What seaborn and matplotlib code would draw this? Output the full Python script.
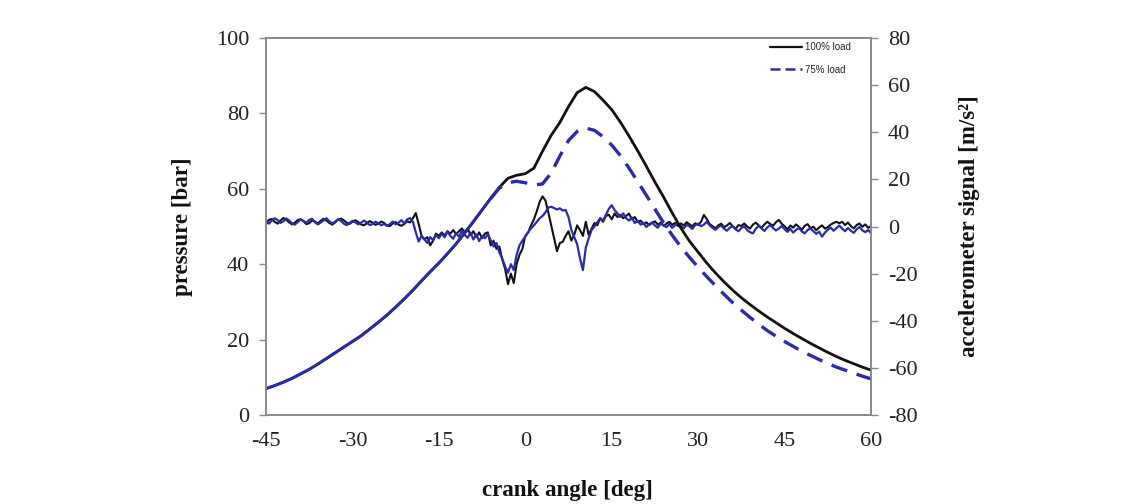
import numpy as np
import pandas as pd
import matplotlib
matplotlib.use("Agg")
import matplotlib.pyplot as plt
from matplotlib.lines import Line2D
import seaborn as sns

# ---------------- data ----------------
# crank angle grid for pressure traces (deg)
angle_p = [-45 + 1.5 * i for i in range(71)]

pressure_100 = [
    7.0, 7.8, 8.7, 9.7, 10.9, 12.1, 13.5, 15.0, 16.5, 18.0,
    19.5, 21.0, 22.8, 24.6, 26.5, 28.6, 30.8, 33.1, 35.6, 38.0,
    40.3, 42.8, 45.4, 48.3, 51.3, 54.4, 57.5, 60.4, 62.8, 63.6,
    64.0, 65.5, 70.0, 74.2, 77.6, 81.8, 85.5, 86.9, 85.8, 83.5,
    81.0, 77.7, 74.0, 70.1, 66.0, 61.8, 57.8, 53.6, 49.6, 46.1,
    43.2, 40.3, 37.7, 35.3, 33.1, 31.1, 29.3, 27.6, 26.0, 24.5,
    23.0, 21.6, 20.3, 19.0, 17.8, 16.6, 15.5, 14.5, 13.6, 12.7,
    11.9,
]

pressure_75 = [
    7.0, 7.8, 8.7, 9.7, 10.9, 12.1, 13.5, 15.0, 16.5, 18.0,
    19.5, 21.0, 22.8, 24.6, 26.5, 28.6, 30.8, 33.1, 35.6, 38.0,
    40.3, 42.8, 45.4, 48.3, 51.3, 54.4, 57.4, 60.2, 61.6, 62.0,
    61.6, 61.0, 61.3, 64.2, 68.7, 72.8, 75.2, 76.1, 75.5, 73.8,
    71.6, 68.8, 65.5, 61.9, 58.3, 54.6, 51.0, 47.7, 44.6, 41.8,
    39.2, 36.7, 34.3, 32.0, 29.8, 27.8, 25.9, 24.1, 22.4, 20.9,
    19.5, 18.2, 16.9, 15.8, 14.7, 13.7, 12.7, 11.9, 11.1, 10.3,
    9.6,
]

# crank angle grid for accelerometer traces (deg)
angle_a = [-45 + 0.5 * i for i in range(211)]

accel_100 = [
    1.5, 2.8, 3.2, 2.0, 1.2, 2.5, 3.6, 2.9, 1.8, 0.9,
    1.6, 2.7, 3.1, 2.2, 1.0, 1.4, 2.6, 2.1, 1.3, 2.4,
    3.3, 2.5, 1.5, 0.8, 1.7, 2.9, 3.4, 2.6, 1.6, 1.1,
    2.0, 2.7, 1.9, 0.9, 0.5, 1.4, 2.3, 1.6, 0.7, 1.2,
    2.1, 1.5, 0.4, 0.2, 1.3, 1.9, 0.8, 0.3, 1.1, 2.2,
    1.7, 3.5, 5.7, 1.0, -4.0, -5.5, -4.5, -8.0, -6.0, -3.0,
    -4.0, -2.5, -3.8, -2.0, -3.0, -1.5, -3.2, -2.0, -0.8, -2.5,
    -1.0, -3.5, -2.0, -4.5, -2.5, -5.0, -3.0, -2.5, -8.0, -6.0,
    -9.5, -8.5, -14.0, -18.0, -24.5, -20.0, -24.0, -16.0, -12.0, -9.5,
    -4.0, -2.5, 0.5, 3.0, 6.5, 10.5, 12.8, 11.0, 6.0, 0.5,
    -5.0, -10.5, -7.0, -6.5, -4.0, -2.0, -6.0, -3.5, 0.5, -1.5,
    -4.0, 2.0, -3.5, -1.0, 1.5, 0.5, 3.5, 2.0, 4.5, 5.0,
    3.0, 5.5, 4.0, 5.0, 3.5, 4.5, 5.5, 3.0, 4.0, 2.0,
    2.5, 1.0, 1.8, 0.6, 1.5, 2.2, 0.8, 1.6, 0.3, 1.2,
    2.0, 0.7, 1.5, 0.2, 1.3, 0.5, 1.8, 0.9, 0.1, 1.4,
    0.6, 2.0, 4.9, 3.2, 1.0, 0.2, -0.8, 0.5, 1.2, -0.3,
    0.4, 1.5, 0.1, -1.0, 0.6, 0.2, 1.3, 0.0, -0.9, 0.8,
    1.6, 0.5, -0.6, 0.9, 2.0, 1.1, 0.3, 1.8, 2.8, 1.2,
    0.1, -1.2, 0.4, -0.5, 0.9, -0.2, -1.4, 0.3, 1.0, -0.7,
    -0.1, -1.6, -0.4, 0.5, -0.9, -0.3, 0.8, 1.5, 2.0, 1.4,
    2.0, 0.6, 1.7, 0.2, -0.8, 0.6, 1.3, -0.1, 0.9, -0.6,
    0.2,
]

accel_75 = [
    2.0, 1.2, 2.5, 3.5, 2.8, 1.5, 2.2, 3.4, 2.6, 1.4,
    0.8, 1.9, 3.0, 2.4, 1.6, 2.8, 3.3, 1.8, 0.9, 1.7,
    2.6, 3.5, 2.2, 1.3, 2.1, 3.0, 2.4, 1.2, 0.6, 1.5,
    2.4, 1.8, 0.9, 1.6, 2.5, 1.7, 0.6, 1.0, 2.0, 1.4,
    0.5, 1.1, 0.3, 1.0, 2.1, 0.9, 1.6, 2.7, 1.3, 3.0,
    3.6, 2.0, -2.5, -6.4, -4.0, -5.5, -7.0, -4.5, -5.8, -3.5,
    -5.0, -3.0, -4.6, -2.2, -4.0, -5.2, -2.8, -4.4, -1.8, -3.6,
    -4.8, -2.6, -5.5, -3.4, -6.2, -4.0, -5.0, -3.2, -5.8, -8.5,
    -7.0, -11.0, -13.5, -17.0, -19.6, -16.0, -18.5, -12.0, -8.0, -6.0,
    -4.3, -2.5, -0.8, 0.5, 2.0, 3.5, 4.5, 6.0, 8.0, 8.4,
    7.8, 7.2, 7.7, 6.8, 7.0, 4.0, -1.5, -4.5, -7.5, -13.5,
    -18.5, -9.0, -5.0, -1.5, 0.0, 1.8, 3.5, 2.5, 5.0, 7.5,
    9.0, 7.0, 5.5, 4.0, 5.6, 3.5, 2.5, 3.8, 1.5, 2.4,
    0.8, 1.6, -0.2, 0.9, 1.8, 0.4, -0.5, 1.2, 0.6, -0.3,
    1.0, -0.6, 0.5, 1.5, 0.2, -0.8, 0.7, 0.0, -1.0, 0.6,
    1.2, 0.1, 0.8, 2.0, 0.5, -0.6, -1.4, -0.2, 0.4, -0.9,
    -1.8, -0.5, 0.2, -1.2, -2.0, -0.7, 0.1, -1.5, -2.4, -2.9,
    -1.0, 0.3, -0.8, -1.9, -0.4, 0.6, -0.6, -1.7, -0.9, 0.2,
    -1.1, -2.3, -1.0, -2.6, -1.4, -0.6, -2.1, -2.9, -1.5, -0.8,
    -2.0, -3.1, -2.2, -4.3, -2.6, -1.4, -0.5, -1.8, -0.7, 0.4,
    -0.9, -2.0, -0.6, -1.8, -2.7, -1.2, -0.2, -1.6, -2.4, -1.5,
    -2.8,
]

x_ticks = [-45, -30, -15, 0, 15, 30, 45, 60]
p_ticks = [0, 20, 40, 60, 80, 100]
a_ticks = [-80, -60, -40, -20, 0, 20, 40, 60, 80]
series_labels = ["100% load", "75% load"]
x_label = "crank angle [deg]"
p_label = "pressure [bar]"
a_label = "accelerometer signal [m/s\u00b2]"

# ---------------- style ----------------
sns.set_style("white")
plt.rcParams["font.family"] = ["Liberation Serif", "DejaVu Serif"]
plt.rcParams["axes.unicode_minus"] = False

BLACK = "#111111"
BLUE = "#2b2ba6"
SPINE = "#8a8a8a"

fig = plt.figure(figsize=(11.41, 5.04), dpi=100)

ax = fig.add_axes([266 / 1141, 1 - 415 / 504, 605 / 1141, 377 / 504])
ax2 = ax.twinx()

dfp = pd.DataFrame({"angle": angle_p, "p100": pressure_100, "p75": pressure_75})
dfa = pd.DataFrame({"angle": angle_a, "a100": accel_100, "a75": accel_75})

# accelerometer traces (right axis)
sns.lineplot(data=dfa, x="angle", y="a100", ax=ax2, color=BLACK, lw=1.5, zorder=2)
sns.lineplot(data=dfa, x="angle", y="a75", ax=ax2, color=BLUE, lw=1.6, zorder=3)

# pressure traces (left axis)
low = dfp[dfp["angle"] <= -6]
high = dfp[dfp["angle"] >= -6]
sns.lineplot(data=dfp, x="angle", y="p100", ax=ax, color=BLACK, lw=2.0)
sns.lineplot(data=low, x="angle", y="p75", ax=ax, color=BLUE, lw=2.0)
sns.lineplot(data=high, x="angle", y="p75", ax=ax, color=BLUE, lw=2.4,
             linestyle=(0, (5, 3)))

ax.set_zorder(ax2.get_zorder() + 1)
ax.patch.set_visible(False)
ax2.patch.set_visible(True)
ax2.patch.set_facecolor("white")

ax.set_xlim(-45, 60)
ax.set_ylim(0, 100)
ax2.set_ylim(-80, 80)
ax.set_xticks(x_ticks)
ax.set_yticks(p_ticks)
ax2.set_yticks(a_ticks)

for a in (ax, ax2):
    for s in a.spines.values():
        s.set_color(SPINE)
        s.set_linewidth(1.2)
    a.tick_params(direction="out", length=5, width=1.0, color=SPINE,
                  labelsize=16, labelcolor="#222222", pad=7)

ax.set_xlabel(x_label, fontsize=16.5, fontweight="bold", color="#111111")
ax.set_ylabel(p_label, fontsize=16.5, fontweight="bold", color="#111111")
ax2.set_ylabel(a_label, fontsize=16.5, fontweight="bold", color="#111111")
ax.xaxis.set_label_coords(0.499, -0.172)
ax.yaxis.set_label_coords(-0.12, 0.5)
ax2.yaxis.set_label_coords(1.145, 0.5)

handles = [Line2D([], [], color=BLACK, lw=1.6),
           Line2D([], [], color=BLUE, lw=1.8, linestyle=(0, (4, 2)))]
leg = ax.legend(handles, series_labels, loc="upper right", frameon=False,
                prop={"family": "Liberation Sans", "size": 7},
                handlelength=3.3, labelspacing=1.3, handletextpad=0.3,
                borderaxespad=0.0, borderpad=0.0,
                bbox_to_anchor=(1 - 20 / 605, 1 - 4 / 377))

fig.savefig("out.png", dpi=100)
